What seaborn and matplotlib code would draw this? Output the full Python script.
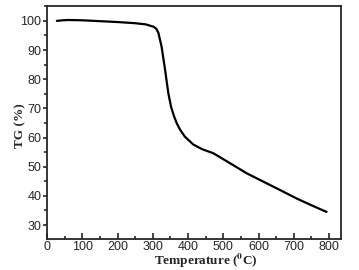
"""TG curve"""

import matplotlib.pyplot as plt
import seaborn as sns
from matplotlib.ticker import MultipleLocator

temperature = [28, 45, 60, 100, 150, 200, 250, 280, 302, 310, 316, 325, 335, 344,
               352, 360, 368, 377, 391, 415, 440, 472, 519, 567, 623, 661, 708, 755, 793]
tg = [100.0, 100.2, 100.3, 100.2, 99.9, 99.6, 99.2, 98.8, 98.0, 97.3, 95.9, 91.2, 83.2, 75.3,
      70.5, 67.4, 64.9, 62.8, 60.3, 57.6, 56.0, 54.6, 51.2, 47.7, 44.3, 42.0, 39.1, 36.5, 34.5]

def main() -> None:
    """Main Function"""
    sns.set_style("ticks")
    plt.rcParams["font.family"] = ["Liberation Sans", "DejaVu Sans"]
    plt.rcParams["mathtext.fontset"] = "stix"
    fig = plt.figure(figsize=(3.59, 2.70), dpi=100)
    ax = fig.add_axes([47 / 359, 1 - 239 / 270, (341 - 47) / 359, (239 - 6) / 270])
    sns.lineplot(x=temperature, y=tg, color="black", linewidth=1.6, ax=ax)
    ax.set_xlim(0, 834)
    ax.set_ylim(25.2, 105.1)
    ax.xaxis.set_major_locator(MultipleLocator(100))
    ax.xaxis.set_minor_locator(MultipleLocator(50))
    ax.yaxis.set_major_locator(MultipleLocator(10))
    ax.yaxis.set_minor_locator(MultipleLocator(5))
    ax.tick_params(axis="x", which="both", direction="in", top=False, labelsize=9,
                   width=1.2, pad=1.5)
    ax.tick_params(axis="x", which="major", length=4)
    ax.tick_params(axis="x", which="minor", length=2)
    ax.tick_params(axis="y", which="both", direction="out", right=False, labelsize=9,
                   width=1.2, pad=1)
    ax.tick_params(axis="y", which="major", length=3)
    ax.tick_params(axis="y", which="minor", length=2)
    for s in ax.spines.values():
        s.set_linewidth(1.3)
        s.set_visible(True)
    ax.set_xlabel(r"Temperature ($^{\mathbf{0}}$C)", fontfamily="Liberation Serif",
                  fontweight="bold", fontsize=9.5)
    ax.set_ylabel("TG (%)", fontfamily="Liberation Serif", fontweight="bold",
                  fontsize=9.5)
    ax.xaxis.set_label_coords(0.54, -0.056)
    ax.yaxis.set_label_coords(-0.07, 0.485)
    fig.savefig("out.png", dpi=100)

if __name__ == "__main__":
    main()
